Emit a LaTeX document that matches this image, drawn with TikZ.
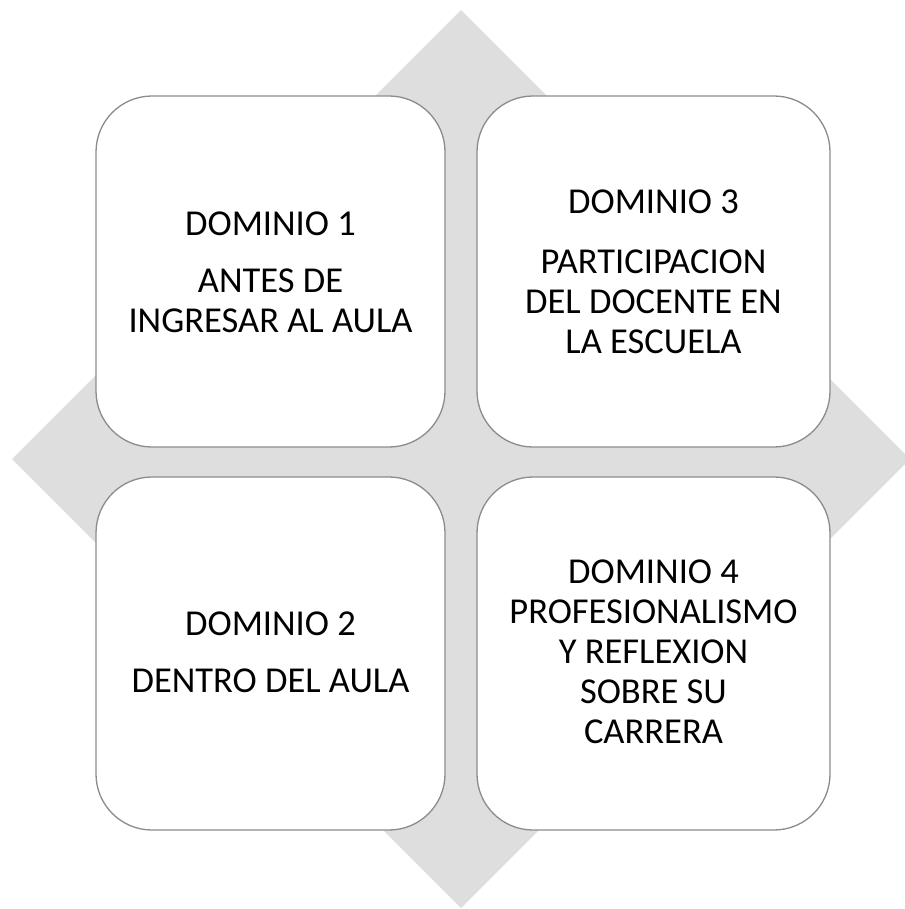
\documentclass[tikz,border=0pt]{standalone}
\usepackage{fontspec}
\setmainfont{Carlito}
\definecolor{diamondgray}{RGB}{222,222,222}
\definecolor{boxline}{RGB}{140,140,140}
\begin{document}
\begin{tikzpicture}[x=1pt,y=-1pt,
  domainbox/.style={draw=boxline,line width=1.3pt,fill=white,rounded corners=56pt},
  domaintext/.style={align=center,inner sep=0pt,font=\fontsize{36.5}{40}\selectfont}]
\useasboundingbox (0,0) rectangle (904,909);
\fill[diamondgray] (461,10) -- (910,459) -- (461,908) -- (12,459) -- cycle;
\draw[domainbox] (96,96) rectangle (445,447);
\draw[domainbox] (477,96) rectangle (830,447);
\draw[domainbox] (96,477) rectangle (445,830);
\draw[domainbox] (477,477) rectangle (830,830);
\node[domaintext] (d1) at (270.5,272) {DOMINIO 1\\[17pt]ANTES DE\\INGRESAR AL AULA};
\node[domaintext] (d3) at (653.5,271.5) {DOMINIO 3\\[20pt]PARTICIPACION\\DEL DOCENTE EN\\LA ESCUELA};
\node[domaintext] (d2) at (270.5,652) {DOMINIO 2\\[17pt]DENTRO DEL AULA};
\node[domaintext] (d4) at (653.5,652) {DOMINIO 4\\PROFESIONALISMO\\Y REFLEXION\\SOBRE SU\\CARRERA};
\end{tikzpicture}
\end{document}
